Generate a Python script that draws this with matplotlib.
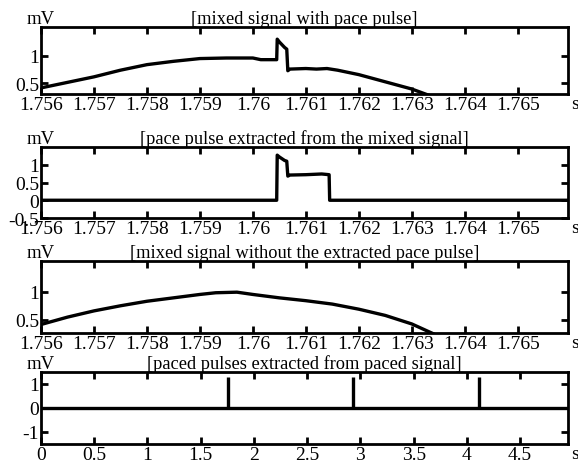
"""Four-panel pace pulse extraction figure."""

import matplotlib
matplotlib.use("Agg")
import matplotlib.pyplot as plt

plt.rcParams["font.family"] = ["Liberation Serif", "DejaVu Serif"]
plt.rcParams["font.size"] = 13

# mixed signal with pace pulse (s, mV)
mixed_t = [1.7560, 1.7565, 1.7570, 1.7575, 1.7580, 1.7585, 1.7590, 1.7595,
           1.7600, 1.76015, 1.76045, 1.76046, 1.76050, 1.76060, 1.76064,
           1.76066, 1.7607, 1.7610, 1.7612, 1.7614, 1.7616, 1.7620, 1.7625,
           1.7630, 1.7634]
mixed_v = [0.42, 0.52, 0.62, 0.74, 0.84, 0.90, 0.95, 0.96,
           0.96, 0.93, 0.93, 1.30, 1.25, 1.15, 1.12,
           0.73, 0.76, 0.77, 0.76, 0.77, 0.74, 0.66, 0.53,
           0.40, 0.26]

# extracted pace pulse
pulse_t = [1.7560, 1.76045, 1.76046, 1.76050, 1.76060, 1.76064, 1.76066,
           1.7607, 1.7610, 1.7613, 1.76144, 1.76145, 1.76595]
pulse_v = [0.0, 0.0, 1.27, 1.22, 1.12, 1.10, 0.68,
           0.71, 0.72, 0.74, 0.72, 0.0, 0.0]

# mixed signal after removing the pulse
clean_t = [1.7560, 1.7565, 1.7570, 1.7575, 1.7580, 1.7585, 1.7590, 1.7593,
           1.7597, 1.7600, 1.7605, 1.7610, 1.7615, 1.7620, 1.7625, 1.7630,
           1.7634]
clean_v = [0.42, 0.55, 0.66, 0.75, 0.83, 0.89, 0.95, 0.98,
           0.99, 0.95, 0.89, 0.84, 0.78, 0.69, 0.58, 0.43, 0.26]

# pulses found in the whole paced record
paced_times = [1.7605, 2.93, 4.11]
paced_heights = [1.28, 1.28, 1.28]

zoom_ticks = [1.756, 1.757, 1.758, 1.759, 1.76, 1.761, 1.762, 1.763, 1.764, 1.765]
zoom_labels = ["1.756", "1.757", "1.758", "1.759", "1.76", "1.761", "1.762",
               "1.763", "1.764", "1.765"]
full_ticks = [0, 0.5, 1, 1.5, 2, 2.5, 3, 3.5, 4, 4.5]
full_labels = ["0", "0.5", "1", "1.5", "2", "2.5", "3", "3.5", "4", "4.5"]

W, H = 578, 464
fig = plt.figure(figsize=(W / 100, H / 100), dpi=100)


def make_axes(top, bottom, left=41, right=568):
    return fig.add_axes([left / W, 1 - bottom / H, (right - left) / W,
                         (bottom - top) / H])


def style(ax, title, xticks, xlabels, xlim, yticks, ylabels, ylim):
    ax.set_xlim(*xlim)
    ax.set_ylim(*ylim)
    ax.set_xticks(xticks, xlabels)
    ax.set_yticks(yticks, ylabels)
    ax.tick_params(direction="in", length=5, width=2, top=True, right=True,
                   pad=1.5, labelsize=14)
    for sp in ax.spines.values():
        sp.set_linewidth(2)
    ax.set_title(title, fontsize=13.2, pad=3)
    ax.text(0, 1.0, "mV", transform=ax.transAxes, ha="center", va="bottom",
            fontsize=13.5)
    ax.text(1.005, -0.02, "s", transform=ax.transAxes, ha="left", va="top",
            fontsize=14)


zoom_xlim = (1.756, 1.76595)

ax1 = make_axes(28, 95)
ax1.plot(mixed_t, mixed_v, color="black", lw=2.4)
style(ax1, "[mixed signal with pace pulse]", zoom_ticks, zoom_labels,
      zoom_xlim, [0.5, 1], ["0.5", "1"], (0.31, 1.52))

ax2 = make_axes(148, 219)
ax2.plot(pulse_t, pulse_v, color="black", lw=2.4)
style(ax2, "[pace pulse extracted from the mixed signal]", zoom_ticks,
      zoom_labels, zoom_xlim, [-0.5, 0, 0.5, 1], ["-0.5", "0", "0.5", "1"],
      (-0.5, 1.5))

ax3 = make_axes(262, 334)
ax3.plot(clean_t, clean_v, color="black", lw=2.4)
style(ax3, "[mixed signal without the extracted pace pulse]", zoom_ticks,
      zoom_labels, zoom_xlim, [0.5, 1], ["0.5", "1"], (0.27, 1.54))

ax4 = make_axes(373, 445)
ax4.axhline(0, color="black", lw=2.4)
ax4.vlines(paced_times, 0, paced_heights, color="black", lw=2.4)
style(ax4, "[paced pulses extracted from paced signal]", full_ticks,
      full_labels, (0, 4.95), [-1, 0, 1], ["-1", "0", "1"], (-1.5, 1.5))

fig.savefig("out.png", dpi=100)
